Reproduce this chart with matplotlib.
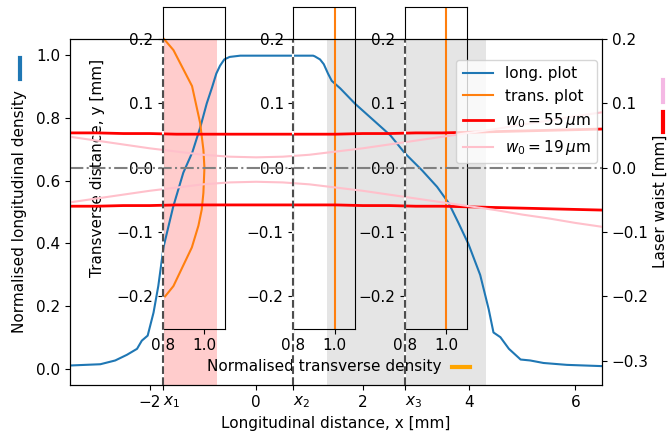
import numpy as np
import matplotlib
matplotlib.use('Agg')
import matplotlib.pyplot as plt
from matplotlib.lines import Line2D

plt.rcParams['font.size'] = 11

# longitudinal density profile (x in mm, normalised density)
x_long = [-3.50, -2.93, -2.65, -2.43, -2.24, -2.15, -2.04, -1.93, -1.84, -1.74,
          -1.56, -1.37, -1.20, -1.05, -0.93, -0.83, -0.75, -0.68, -0.60, -0.50,
          -0.30, 1.07, 1.10, 1.20, 1.27, 1.35, 1.42, 1.58, 1.86, 2.21, 2.52,
          2.80, 3.12, 3.40, 3.62, 3.80, 3.99, 4.21, 4.37, 4.46, 4.59, 4.75,
          4.97, 5.15, 5.40, 5.84, 6.50]
d_long = [0.012, 0.016, 0.028, 0.046, 0.065, 0.091, 0.107, 0.180, 0.265, 0.390,
          0.517, 0.625, 0.690, 0.770, 0.845, 0.896, 0.940, 0.965, 0.985, 0.993,
          0.997, 0.997, 0.995, 0.985, 0.970, 0.940, 0.917, 0.893, 0.844, 0.791, 0.744,
          0.686, 0.632, 0.580, 0.528, 0.466, 0.398, 0.300, 0.191, 0.117, 0.102, 0.065,
          0.031, 0.028, 0.020, 0.014, 0.010]

# transverse density at x1 (y in mm, normalised density)
y_trans = [-0.200, -0.184, -0.124, -0.090, -0.065, -0.039, 0.000, 0.028, 0.070,
           0.127, 0.183, 0.200]
d_trans = [0.810, 0.850, 0.939, 0.971, 0.987, 0.995, 1.000, 0.995, 0.979,
           0.940, 0.850, 0.805]

# laser waist w(x) in mm
x_w = [-3.5, -3.0, -2.5, -2.0, -1.5, -1.0, -0.5, 0.0, 0.5, 1.0, 1.5, 2.0, 2.5,
       3.0, 3.5, 4.0, 4.5, 5.0, 5.5, 6.0, 6.5]
w_55 = [0.057, 0.057, 0.056, 0.056, 0.055, 0.055, 0.055, 0.055, 0.055, 0.055,
        0.055, 0.056, 0.056, 0.057, 0.057, 0.058, 0.059, 0.060, 0.061, 0.062, 0.063]
w_19 = [0.051, 0.045, 0.039, 0.033, 0.028, 0.023, 0.020, 0.019, 0.020, 0.023,
        0.028, 0.033, 0.039, 0.045, 0.051, 0.057, 0.063, 0.070, 0.076, 0.083, 0.089]
beam_centre = -0.003

x_marks = [-1.75, 0.7, 2.8]
mark_labels = ['$x_1$', '$x_2$', '$x_3$']
span_pink = (-1.75, -0.73)
span_gray = (1.33, 4.32)

W, H = 669, 437
xlo, xhi = -3.5, 6.5

fig = plt.figure(figsize=(W / 100, H / 100), dpi=100)
ax = fig.add_axes([70 / W, 1 - 385 / H, 532 / W, 346 / H])
ax.set_zorder(0)
ax2 = ax.twinx()
ax2.set_zorder(2)
ax2.patch.set_visible(False)

ax.axvspan(*span_pink, color='red', alpha=0.2, lw=0)
ax.axvspan(*span_gray, color='gray', alpha=0.2, lw=0)
l_long, = ax.plot(x_long, d_long, color='C0', lw=1.5)
ax.set_xlim(xlo, xhi)
ax.set_ylim(-0.05, 1.05)
ax.set_xticks([-2, 0, 2, 4, 6] + x_marks)
labs = ax.set_xticklabels(['\u22122', '0', '2', '4', '6'] + mark_labels)
for t in labs[5:]:
    t.set_ha('left')
ax.set_xlabel('Longitudinal distance, x [mm]')
ax.set_ylabel('Normalised longitudinal density')
ax.yaxis.set_label_coords(-0.081, 0.5)

# insets
insets = []
for xm in x_marks:
    left = (70 + (xm - xlo) / (xhi - xlo) * 532) / W
    axi = fig.add_axes([left, 1 - 328.5 / H, 62 / W, 321.5 / H])
    axi.set_zorder(1)
    axi.patch.set_visible(False)
    axi.set_xlim(0.8, 1.1)
    axi.set_ylim(-0.25, 0.25)
    axi.set_xticks([0.8, 1.0])
    axi.set_xticklabels(['0.8', '1.0'])
    axi.set_yticks([-0.2, -0.1, 0.0, 0.1, 0.2])
    axi.set_yticklabels(['\u22120.2', '\u22120.1', '0.0', '0.1', '0.2'])
    insets.append(axi)

l_trans, = insets[0].plot(d_trans, y_trans, color='C1', lw=1.5)
insets[1].axvline(1.0, color='C1', lw=1.5)
insets[2].axvline(1.0, color='C1', lw=1.5)
insets[0].set_ylabel('Transverse distance, y [mm]')
insets[0].yaxis.set_label_coords(-0.93, 0.5)
insets[1].set_xlabel('Normalised transverse density')

# laser waist
w55 = np.array(w_55)
w19 = np.array(w_19)
l55, = ax2.plot(x_w, beam_centre + w55, color='red', lw=2)
ax2.plot(x_w, beam_centre - w55, color='red', lw=2)
l19, = ax2.plot(x_w, beam_centre + w19, color='pink', lw=1.5)
ax2.plot(x_w, beam_centre - w19, color='pink', lw=1.5)
ax2.axhline(0, color='gray', ls='-.', lw=1.5)
for xm in x_marks:
    ax2.axvline(xm, color='white', lw=1.5)
    ax2.axvline(xm, color='0.3', ls='--', lw=1.5)
ax2.set_ylim(-0.338, 0.2)
ax2.set_yticks([-0.3, -0.2, -0.1, 0.0, 0.1, 0.2])
ax2.set_ylabel('Laser waist [mm]')
ax2.yaxis.set_label_coords(1.096, 0.53)

ax2.legend([l_long, l_trans, l55, l19],
           ['long. plot', 'trans. plot', r'$w_0 = 55\,\mu$m', r'$w_0 = 19\,\mu$m'],
           loc='upper right', bbox_to_anchor=(597 / W, 1 - 60 / H),
           bbox_transform=fig.transFigure, borderaxespad=0)

# colour keys next to the axis labels
fig.add_artist(Line2D([20 / W, 20 / W], [1 - 79 / H, 1 - 58 / H], color='C0', lw=3))
fig.add_artist(Line2D([663 / W, 663 / W], [1 - 102 / H, 1 - 80 / H], color='#f4b8e4', lw=3))
fig.add_artist(Line2D([663 / W, 663 / W], [1 - 132 / H, 1 - 112 / H], color='red', lw=3))
fig.add_artist(Line2D([452 / W, 470 / W], [1 - 367 / H, 1 - 367 / H], color='orange', lw=3))

fig.savefig('out.png', dpi=100)
